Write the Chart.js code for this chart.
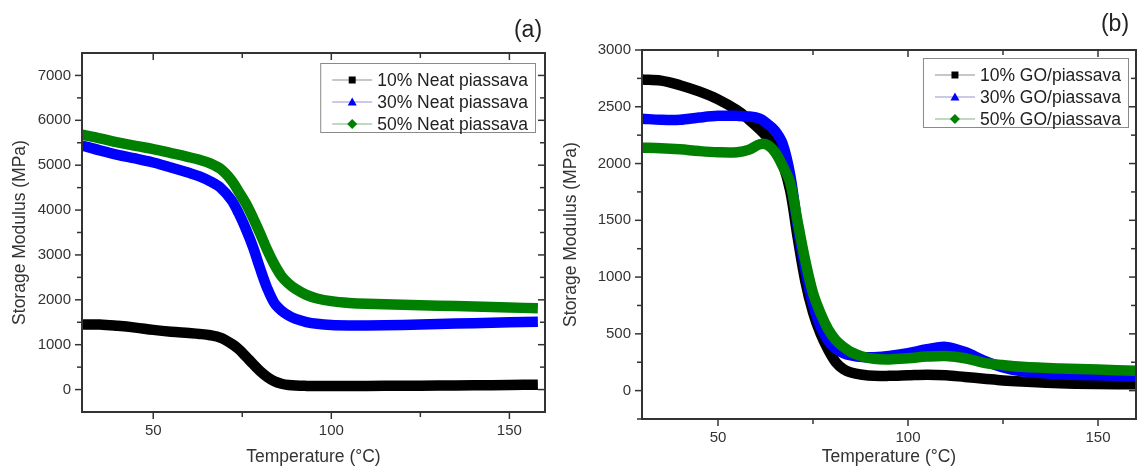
<!DOCTYPE html>
<html><head><meta charset="utf-8">
<script src="https://cdn.jsdelivr.net/npm/chart.js@4.4.1/dist/chart.umd.min.js"></script>
<style>
html,body{margin:0;padding:0;background:#fff;}
#wrap{position:relative;width:1137px;height:468px;overflow:hidden;background:#fff;}
#ca{position:absolute;left:0;top:0;}
#cb{position:absolute;left:555px;top:0;}
</style></head><body>
<div id="wrap"><canvas id="ca" width="555" height="468"></canvas><canvas id="cb" width="582" height="468"></canvas></div>
<script>
// ---------- Panel (a): neat piassava ----------
const tempsA = [30,35,40,45,50,55,60,63,66,69,72,74,76,78,80,82,84,86,88,90,93,96,100,105,110,120,130,140,150,158];
const neat10 = [1450,1450,1420,1380,1330,1290,1260,1240,1210,1150,1020,900,740,570,410,280,185,130,100,88,82,80,78,78,80,85,90,95,100,110];
const neat30 = [5440,5330,5230,5150,5060,4950,4830,4750,4640,4490,4220,3930,3580,3180,2700,2260,1930,1760,1650,1575,1505,1465,1440,1430,1430,1440,1460,1480,1500,1510];
const neat50 = [5680,5600,5510,5430,5360,5270,5180,5120,5040,4910,4660,4410,4150,3830,3480,3110,2790,2530,2360,2240,2110,2030,1970,1930,1910,1890,1870,1850,1830,1810];
const labelsA = ['10% Neat piassava','30% Neat piassava','50% Neat piassava'];
const xMajorA = [50,100,150];
const xMinorA = [75,125];
const yMajorA = [0,1000,2000,3000,4000,5000,6000,7000];
const yMinorA = [500,1500,2500,3500,4500,5500,6500];

// ---------- Panel (b): GO/piassava ----------
const tempsB = [30,35,40,45,50,55,58,61,63,65,67,69,71,73,75,77,79,81,83,85,88,91,95,100,105,110,115,120,125,130,140,150,160];
const go10 = [2740,2730,2690,2635,2565,2470,2390,2300,2230,2140,2000,1760,1340,960,690,500,360,250,190,160,140,130,130,135,140,135,120,105,90,80,65,58,55];
const go30 = [2395,2385,2385,2405,2420,2420,2415,2395,2350,2290,2175,1900,1440,1060,760,560,440,370,330,310,295,295,305,330,365,385,340,265,205,170,145,135,125];
const go50 = [2140,2135,2125,2110,2100,2100,2120,2170,2165,2100,1980,1830,1480,1140,860,680,540,445,385,340,300,280,275,285,300,305,285,245,225,210,195,185,175];
const labelsB = ['10% GO/piassava','30% GO/piassava','50% GO/piassava'];
const xMajorB = [50,100,150];
const xMinorB = [75,125];
const yMajorB = [0,500,1000,1500,2000,2500,3000];
const yMinorB = [-250,250,750,1250,1750,2250,2750];

const COLORS = ['#000000','#0000ff','#008000'];
const LEGEND_LINE = ['#b4b4b4','#b8b8e0','#a8cca8'];
const MARKERS = ['square','triangle','diamond'];
const AXIS = '#333333';
const FONT = "'Liberation Sans', Arial, Helvetica, sans-serif";
Chart.defaults.font.family = FONT;

const framePlugin = {
  id: 'frame',
  afterDatasetsDraw(chart, args, o) {
    const {ctx, chartArea: ca, scales: {x, y}} = chart;
    ctx.save();
    ctx.strokeStyle = AXIS;
    ctx.lineWidth = 2;
    ctx.strokeRect(ca.left, ca.top, ca.right - ca.left, ca.bottom - ca.top);
    ctx.lineWidth = 1.5;
    const seg = (x1,y1,x2,y2)=>{ctx.beginPath();ctx.moveTo(x1,y1);ctx.lineTo(x2,y2);ctx.stroke();};
    const doX = (vals, len) => vals.forEach(v => {
      const px = x.getPixelForValue(v);
      seg(px, ca.bottom, px, ca.bottom + len);
      seg(px, ca.top, px, ca.top + len);
    });
    const doY = (vals, len) => vals.forEach(v => {
      const py = y.getPixelForValue(v);
      seg(ca.left - len, py, ca.left, py);
      seg(ca.right, py, ca.right - len, py);
    });
    doX(o.xMajor, 7); doX(o.xMinor, 5);
    doY(o.yMajor, 7); doY(o.yMinor, 5);
    ctx.fillStyle = '#222';
    ctx.font = '23px ' + FONT;
    ctx.textAlign = 'center';
    ctx.textBaseline = 'middle';
    ctx.fillText(o.tag, o.tagX, o.tagY);
    ctx.restore();
  }
};

function drawMarker(ctx, type, cx, cy, color) {
  ctx.fillStyle = color;
  ctx.beginPath();
  if (type === 'square') { ctx.rect(cx - 3.5, cy - 3.5, 7, 7); }
  else if (type === 'triangle') { ctx.moveTo(cx, cy - 4.5); ctx.lineTo(cx + 4.5, cy + 3.5); ctx.lineTo(cx - 4.5, cy + 3.5); ctx.closePath(); }
  else { ctx.moveTo(cx, cy - 5); ctx.lineTo(cx + 5, cy); ctx.lineTo(cx, cy + 5); ctx.lineTo(cx - 5, cy); ctx.closePath(); }
  ctx.fill();
}

const legendPlugin = {
  id: 'boxLegend',
  afterDraw(chart, args, o) {
    const {ctx, chartArea: ca} = chart;
    ctx.save();
    ctx.font = '17.5px ' + FONT;
    const tw = Math.max(...o.labels.map(l => ctx.measureText(l).width));
    const w = 57 + tw + 7;
    const h = 69;
    const bx = ca.right - o.dx - w;
    const by = ca.top + o.dy;
    ctx.fillStyle = '#fff';
    ctx.fillRect(bx, by, w, h);
    ctx.strokeStyle = '#8a8a8a';
    ctx.lineWidth = 1;
    ctx.strokeRect(bx + 0.5, by + 0.5, w, h);
    o.labels.forEach((lab, i) => {
      const cy = by + 17 + i * 22;
      ctx.strokeStyle = LEGEND_LINE[i];
      ctx.lineWidth = 1.5;
      ctx.beginPath(); ctx.moveTo(bx + 12, cy); ctx.lineTo(bx + 52, cy); ctx.stroke();
      drawMarker(ctx, MARKERS[i], bx + 32, cy, COLORS[i]);
      ctx.fillStyle = '#222';
      ctx.textAlign = 'left';
      ctx.textBaseline = 'middle';
      ctx.fillText(lab, bx + 57, cy + 1);
    });
    ctx.restore();
  }
};

function makeChart(id, temps, series, labels, cfg) {
  const datasets = series.map((vals, i) => ({
    label: labels[i],
    data: temps.map((t, k) => ({x: t, y: vals[k]})),
    borderColor: COLORS[i],
    backgroundColor: COLORS[i],
    borderWidth: 10.5,
    pointRadius: 0,
    fill: false,
    tension: 0.35,
    borderCapStyle: 'butt',
    borderJoinStyle: 'round',
    order: 2 - i
  }));
  return new Chart(document.getElementById(id), {
    type: 'line',
    data: {datasets},
    plugins: [framePlugin, legendPlugin],
    options: {
      responsive: false,
      animation: false,
      events: [],
      layout: {padding: {left: 0, right: cfg.padRight, top: cfg.padTop, bottom: 0}},
      plugins: {
        legend: {display: false},
        tooltip: {enabled: false},
        frame: {xMajor: cfg.xMajor, xMinor: cfg.xMinor, yMajor: cfg.yMajor, yMinor: cfg.yMinor, tag: cfg.tag, tagX: cfg.tagX, tagY: cfg.tagY},
        boxLegend: {labels, dx: cfg.legDx, dy: cfg.legDy}
      },
      scales: {
        x: {
          type: 'linear', min: 30, max: 160,
          afterBuildTicks: s => { s.ticks = cfg.xMajor.map(v => ({value: v})); },
          afterFit: s => { s.height = cfg.xHeight; },
          grid: {display: false, drawTicks: false},
          border: {display: false},
          ticks: {padding: 10, color: '#333', font: {size: 15}, maxRotation: 0, autoSkip: false, callback: v => String(v)},
          title: {display: true, text: 'Temperature (°C)', color: '#333', font: {size: 17.5}, padding: {top: 0, bottom: 0}}
        },
        y: {
          type: 'linear', min: cfg.yMin, max: cfg.yMax,
          afterBuildTicks: s => { s.ticks = cfg.yMajor.map(v => ({value: v})); },
          afterFit: s => { s.width = cfg.yWidth; },
          grid: {display: false, drawTicks: false},
          border: {display: false},
          ticks: {padding: 11, color: '#333', font: {size: 15}, autoSkip: false, callback: v => String(v)},
          title: {display: true, text: 'Storage Modulus (MPa)', color: '#333', font: {size: 17.5}, padding: {top: cfg.yTitlePad, bottom: 0}}
        }
      }
    }
  });
}

makeChart('ca', tempsA, [neat10, neat30, neat50], labelsA, {
  xMajor: xMajorA, xMinor: xMinorA, yMajor: yMajorA, yMinor: yMinorA,
  yMin: -500, yMax: 7500, padRight: 10, padTop: 53, xHeight: 56, yWidth: 82, yTitlePad: 9.5,
  tag: '(a)', tagX: 528, tagY: 31, legDx: 10, legDy: 10
});
makeChart('cb', tempsB, [go10, go30, go50], labelsB, {
  xMajor: xMajorB, xMinor: xMinorB, yMajor: yMajorB, yMinor: yMinorB,
  yMin: -250, yMax: 3000, padRight: 1, padTop: 50, xHeight: 49, yWidth: 87, yTitlePad: 5.5,
  tag: '(b)', tagX: 560, tagY: 25, legDx: 8, legDy: 8
});
</script>
</body></html>
